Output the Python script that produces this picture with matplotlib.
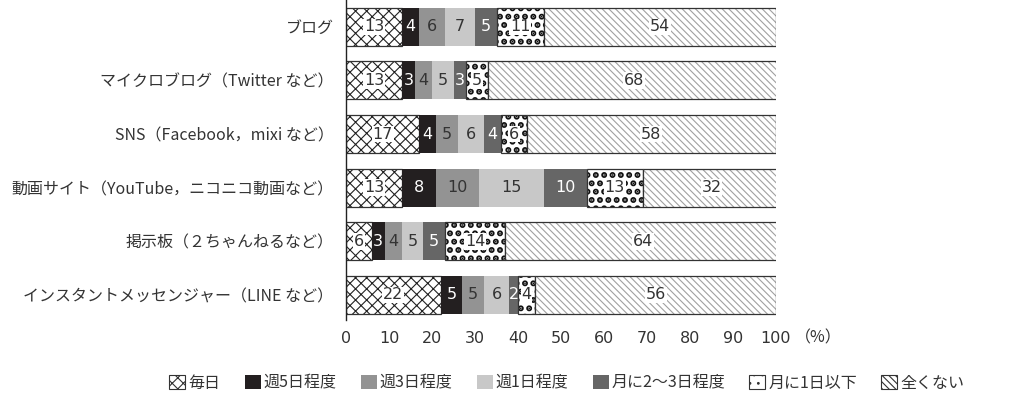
import numpy as np
import matplotlib
matplotlib.use("Agg")
import matplotlib.pyplot as plt
from matplotlib.patches import Patch

plt.rcParams['font.family'] = ['Noto Sans CJK JP', 'DejaVu Sans']
plt.rcParams['hatch.linewidth'] = 0.8

# データ
categories = ['ブログ',
              'マイクロブログ（Twitter など）',
              'SNS（Facebook，mixi など）',
              '動画サイト（YouTube，ニコニコ動画など）',
              '掲示板（２ちゃんねるなど）',
              'インスタントメッセンジャー（LINE など）']
series_names = ['毎日', '週5日程度', '週3日程度', '週1日程度', '月に2～3日程度', '月に1日以下', '全くない']
every_day = [13, 13, 17, 13, 6, 22]
week5 = [4, 3, 4, 8, 3, 5]
week3 = [6, 4, 5, 10, 4, 5]
week1 = [7, 5, 6, 15, 5, 6]
month23 = [5, 3, 4, 10, 5, 2]
month1 = [11, 5, 6, 13, 14, 4]
never = [54, 68, 58, 32, 64, 56]
xticks = [0, 10, 20, 30, 40, 50, 60, 70, 80, 90, 100]

values = [every_day, week5, week3, week1, month23, month1, never]

# 見た目
styles = [
    dict(face='white', hatch='xxx', hc='#222222', hlw=0.8, txt='#333333', box=True),
    dict(face='#231f20', hatch=None, hc=None, hlw=0.8, txt='white', box=False),
    dict(face='#939393', hatch=None, hc=None, hlw=0.8, txt='#333333', box=False),
    dict(face='#c8c8c8', hatch=None, hc=None, hlw=0.8, txt='#333333', box=False),
    dict(face='#666666', hatch=None, hc=None, hlw=0.8, txt='white', box=False),
    dict(face='white', hatch='..', hc='#111111', hlw=3.0, txt='#333333', box=True),
    dict(face='white', hatch='\\\\\\\\\\', hc='#a0a0a0', hlw=0.8, txt='#333333', box=True),
]

fig = plt.figure(figsize=(10.33, 3.96), dpi=100)
ax = fig.add_axes([346 / 1033, 76 / 396, 430 / 1033, 320 / 396])

y = np.arange(len(categories))
h = 0.71
left = np.zeros(len(categories))
for vals, st in zip(values, styles):
    vals = np.array(vals, dtype=float)
    if st['hatch']:
        with plt.rc_context({'hatch.linewidth': st['hlw']}):
            ax.barh(y, vals, left=left, height=h, color=st['face'], hatch=st['hatch'],
                    edgecolor=st['hc'], linewidth=0)
        ax.barh(y, vals, left=left, height=h, fill=False, edgecolor='#333333', linewidth=0.9)
    else:
        ax.barh(y, vals, left=left, height=h, color=st['face'], edgecolor='none', linewidth=0)
    for yi, l, v in zip(y, left, vals):
        kw = {}
        if st['box']:
            kw['bbox'] = dict(boxstyle='square,pad=0.05', facecolor='white', edgecolor='none')
        ax.text(l + v / 2, yi, f'{int(v)}', ha='center', va='center', fontsize=11.5,
                color=st['txt'], family='DejaVu Sans', **kw)
    left += vals

ax.set_xlim(0, 100)
ax.set_ylim(5.47, -0.5)
ax.set_yticks(y)
ax.set_yticklabels(categories, fontsize=11.5, color='#333333')
ax.set_xticks(xticks)
ax.set_xticklabels([str(t) for t in xticks], fontsize=11.5, color='#333333', family='DejaVu Sans')
ax.tick_params(axis='y', length=0, pad=9)
ax.tick_params(axis='x', length=0, pad=8)
for s in ['top', 'right', 'bottom']:
    ax.spines[s].set_visible(False)
ax.spines['left'].set_color('#222222')
ax.spines['left'].set_linewidth(1.0)

ax.text(1.045, -18 / 320, '（%）', transform=ax.transAxes, ha='left', va='center',
        fontsize=11.5, color='#333333')

handles = []
for name, st in zip(series_names, styles):
    if st['hatch']:
        with plt.rc_context({'hatch.linewidth': st['hlw']}):
            handles.append(Patch(facecolor='white', hatch=st['hatch'], edgecolor='#333333',
                                 linewidth=0.8, label=name))
    else:
        handles.append(Patch(facecolor=st['face'], edgecolor='none', label=name))
fig.legend(handles=handles, loc='center', bbox_to_anchor=(567 / 1033, 1 - 383 / 396),
           ncol=7, frameon=False, fontsize=11.5, handlelength=1.0, handleheight=1.0,
           handletextpad=0.2, columnspacing=1.5, labelcolor='#333333')

fig.savefig('out.png', dpi=100)
